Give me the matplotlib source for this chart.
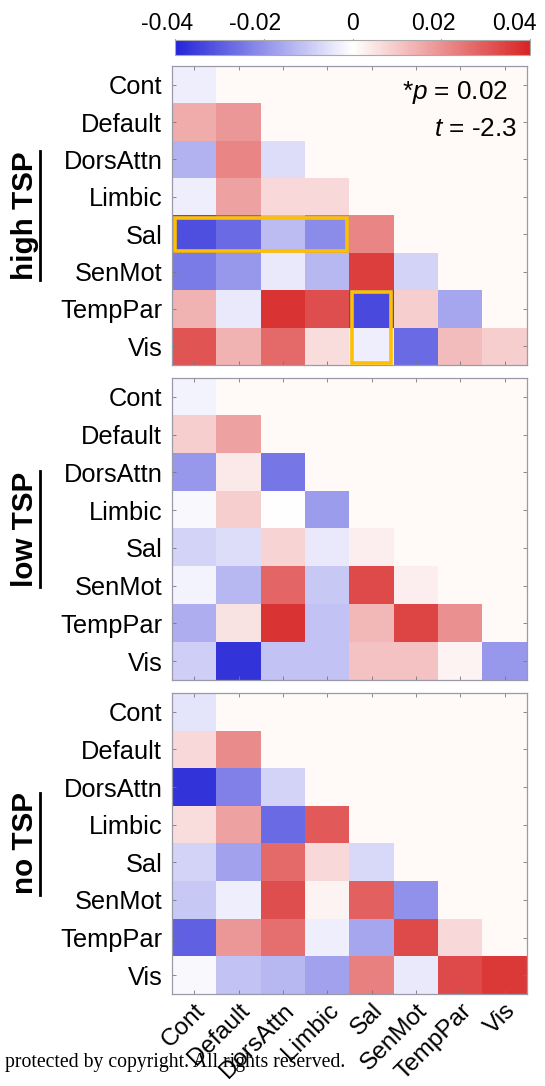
import numpy as np
import matplotlib
matplotlib.use("Agg")
import matplotlib.pyplot as plt
from matplotlib.colors import LinearSegmentedColormap, Normalize
from matplotlib.patches import Rectangle
from matplotlib.lines import Line2D

plt.rcParams['font.family'] = ['Liberation Sans', 'DejaVu Sans']
plt.rcParams['mathtext.fontset'] = 'custom'
plt.rcParams['mathtext.it'] = 'Liberation Sans:italic'
plt.rcParams['mathtext.rm'] = 'Liberation Sans'

networks = ["Cont", "Default", "DorsAttn", "Limbic", "Sal", "SenMot", "TempPar", "Vis"]
cbar_ticks = [-0.04, -0.02, 0, 0.02, 0.04]
cbar_labels = ["-0.04", "-0.02", "0", "0.02", "0.04"]
panel_titles = ["high TSP", "low TSP", "no TSP"]

# lower-triangle values (row i has i+1 entries)
high_tsp = [
    [-0.003],
    [0.015, 0.019],
    [-0.014, 0.022, -0.006],
    [-0.003, 0.017, 0.007, 0.007],
    [-0.032, -0.027, -0.012, -0.021, 0.022],
    [-0.024, -0.019, -0.004, -0.013, 0.035, -0.008],
    [0.014, -0.004, 0.037, 0.032, -0.033, 0.009, -0.016],
    [0.031, 0.014, 0.027, 0.006, -0.003, -0.027, 0.012, 0.009],
]
low_tsp = [
    [-0.002],
    [0.009, 0.017],
    [-0.019, 0.004, -0.025],
    [-0.001, 0.009, 0.000, -0.018],
    [-0.008, -0.006, 0.008, -0.004, 0.003],
    [-0.002, -0.013, 0.028, -0.010, 0.033, 0.003],
    [-0.015, 0.005, 0.037, -0.011, 0.013, 0.034, 0.020],
    [-0.009, -0.037, -0.011, -0.011, 0.011, 0.011, 0.002, -0.019],
]
no_tsp = [
    [-0.005],
    [0.007, 0.021],
    [-0.037, -0.023, -0.008],
    [0.006, 0.017, -0.027, 0.030],
    [-0.008, -0.017, 0.027, 0.007, -0.007],
    [-0.010, -0.003, 0.032, 0.002, 0.029, -0.020],
    [-0.029, 0.019, 0.026, -0.003, -0.016, 0.033, 0.007],
    [-0.001, -0.011, -0.013, -0.017, 0.023, -0.004, 0.033, 0.036],
]
panels = [high_tsp, low_tsp, no_tsp]

# highlighted blocks in the first panel: (row_start, row_end, col_start, col_end)
highlight_rows_cols = [(4, 4, 0, 3), (6, 7, 4, 4)]


def to_matrix(tri):
    n = len(tri)
    m = np.full((n, n), np.nan)
    for i, row in enumerate(tri):
        for j, v in enumerate(row):
            m[i, j] = v
    return np.ma.masked_invalid(m)


cmap = LinearSegmentedColormap.from_list("bwr2", ["#2424d8", "#ffffff", "#d82424"])
cmap.set_bad("#fffaf8")
norm = Normalize(vmin=-0.04, vmax=0.04)

W, H = 545, 1086
fig = plt.figure(figsize=(W / 100, H / 100), dpi=100)

left, right = 172 / W, 527 / W
tops = [66, 378, 693]
bottoms = [365, 680, 994]

fs = 18.3
axes = []
for k, data in enumerate(panels):
    ax = fig.add_axes([left, 1 - bottoms[k] / H, right - left, (bottoms[k] - tops[k]) / H])
    im = ax.imshow(to_matrix(data), cmap=cmap, norm=norm, aspect='auto',
                   interpolation='nearest')
    ax.set_xticks(range(len(networks)))
    ax.set_yticks(range(len(networks)))
    ax.set_yticklabels(networks, fontsize=fs)
    if k == 2:
        ax.set_xticklabels(networks, fontsize=17.6, rotation=45, ha='right',
                           rotation_mode='anchor')
    else:
        ax.set_xticklabels([])
    ax.tick_params(direction='in', length=3, width=0.6, color='#777777',
                   top=True, right=True, pad=7)
    ax.tick_params(axis='x', pad=4)
    for s in ax.spines.values():
        s.set_color('#9a9aa8')
        s.set_linewidth(0.9)
    axes.append(ax)

# highlight boxes
for (r0, r1, c0, c1) in highlight_rows_cols:
    axes[0].add_patch(Rectangle((c0 - 0.5 + 0.06, r0 - 0.5 + 0.06),
                                c1 - c0 + 1 - 0.12, r1 - r0 + 1 - 0.12,
                                fill=False, edgecolor='#FFBF00', linewidth=2.6,
                                clip_on=False, zorder=5))

# stats annotation
axes[0].text(7.07, 0.22, r"*$p$ = 0.02", fontsize=fs + 0.5, ha='right', va='center')
axes[0].text(7.27, 1.18, r"$t$ = -2.3", fontsize=fs + 0.5, ha='right', va='center')

# colorbar
cax = fig.add_axes([175 / W, 1 - 55 / H, (530 - 175) / W, 15 / H])
cb = fig.colorbar(im, cax=cax, orientation='horizontal', ticks=cbar_ticks)
cb.ax.xaxis.set_ticks_position('top')
cb.ax.set_xticklabels([])
cb.ax.tick_params(length=1, width=0.8, color='#555555', pad=3)
cb.outline.set_edgecolor('#aaaaaa')
cb.outline.set_linewidth(0.8)
# label placement as in the reference (slightly shifted from tick positions), in pt
label_shift_pt = [-5.4, -6.5, 0.0, -5.8, -11.2]
for v, lab, dx in zip(cbar_ticks, cbar_labels, label_shift_pt):
    cb.ax.annotate(lab, xy=(v, 1), xycoords=('data', 'axes fraction'),
                   xytext=(dx, 3.5), textcoords='offset points', ha='center',
                   va='bottom', fontsize=16.5)

# panel titles (bold, rotated, underlined)
fig.canvas.draw()
renderer = fig.canvas.get_renderer()
for k, title in enumerate(panel_titles):
    yc = 1 - (tops[k] + bottoms[k]) / 2 / H
    t = fig.text(25 / W, yc, title, rotation=90, fontsize=21.3, fontweight='bold',
                 ha='center', va='center')
    bb = t.get_window_extent(renderer)
    x_line = (bb.x1 + 0.5) / W
    fig.add_artist(Line2D([x_line, x_line], [bb.y0 / H, bb.y1 / H],
                          transform=fig.transFigure, color='black', linewidth=2.0))

fig.text(5 / W, 1 - 1063 / H, "protected by copyright. All rights reserved.",
         family='Liberation Serif', fontsize=14.2, ha='left', va='center', zorder=10)

fig.savefig("out.png", dpi=100)
